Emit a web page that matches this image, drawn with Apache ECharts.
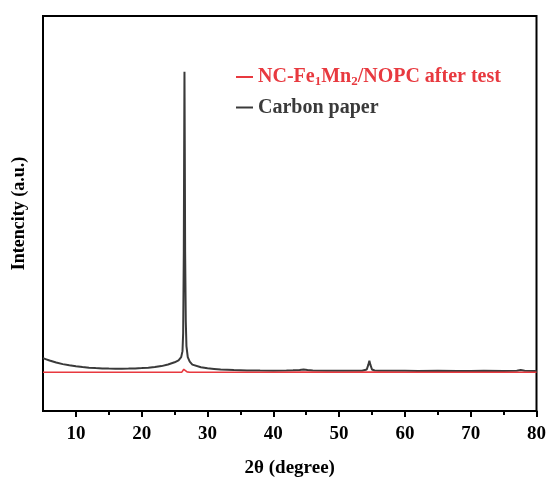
<!DOCTYPE html>
<html>
<head>
<meta charset="utf-8">
<script src="https://cdn.jsdelivr.net/npm/echarts@6/dist/echarts.min.js"></script>
<style>
  html, body { margin: 0; padding: 0; background: #fff; }
  #chart { width: 549px; height: 483px; }
</style>
</head>
<body>
<div id="chart"></div>
<script>
// XRD patterns: 2θ (degree) vs intensity (arbitrary units)
const carbonX = [5, 5.5, 6, 7, 8, 9, 10, 11, 12, 13, 14, 15, 16, 17, 18, 19, 20, 21, 22, 23, 24, 25,
  25.6, 26.0, 26.2, 26.3, 26.4, 26.45, 26.5, 26.55, 26.6, 26.7, 26.8, 27.0, 27.3, 27.7, 28, 29, 30, 31,
  32, 34, 36, 38, 40, 42, 43, 44, 44.6, 45.2, 46, 48, 50, 52, 53.5, 54.2, 54.45, 54.6, 54.75, 55.0, 55.4,
  56, 58, 60, 62, 65, 68, 70, 72, 75, 77, 77.6, 78.2, 80];
const carbonY = [530, 518, 506, 486, 470, 458, 448, 440, 434, 430, 427, 425, 424, 424, 425, 427, 430, 434, 440, 450, 466, 488,
  508, 540, 600, 780, 1600, 2600, 3400, 2600, 1600, 900, 650, 540, 495, 465, 452, 438, 428, 422,
  416, 410, 407, 405, 404, 406, 408, 412, 416, 411, 406, 404, 403, 403, 404, 416, 465, 505, 465, 416, 406,
  404, 403, 403, 402, 403, 402, 402, 403, 402, 404, 410, 403, 402];

const redX = [5, 10, 15, 20, 25, 26.1, 26.3, 26.4, 26.5, 26.6, 26.7, 26.9, 27.3, 30, 35, 40, 44.5, 50, 54.6, 60, 70, 80];
const redY = [388, 389, 388, 389, 389, 390, 398, 418, 432, 418, 400, 392, 389, 389, 388, 388, 390, 388, 390, 388, 388, 388];

const xTickLabels = [10, 20, 30, 40, 50, 60, 70, 80];
const xMinorTicks = [15, 25, 35, 45, 55, 65, 75];

const seriesNames = ['NC-Fe1Mn2/NOPC after test', 'Carbon paper'];
const seriesColors = ['#e8393f', '#3a3a3a'];

const zip = (xs, ys) => xs.map((x, i) => [x, ys[i]]);

const font = 'Liberation Serif';
const chart = echarts.init(document.getElementById('chart'));

chart.setOption({
  animation: false,
  backgroundColor: '#fff',
  grid: {
    left: 43, right: 12, top: 16, bottom: 71,
    show: true, borderColor: '#000', borderWidth: 2, backgroundColor: 'transparent'
  },
  legend: {
    orient: 'vertical',
    left: 231, top: 62,
    itemWidth: 17, itemHeight: 2, itemGap: 9,
    icon: 'rect',
    data: seriesNames,
    formatter: function (name) {
      if (name === seriesNames[0]) {
        return '{r|NC-Fe}{rs|1}{r|Mn}{rs|2}{r|/NOPC after test}';
      }
      return '{k|Carbon paper}';
    },
    textStyle: {
      fontFamily: font, fontWeight: 'bold', fontSize: 20,
      rich: {
        r: { color: seriesColors[0], fontFamily: font, fontWeight: 'bold', fontSize: 20 },
        rs: { color: seriesColors[0], fontFamily: font, fontWeight: 'bold', fontSize: 13, padding: [10, 0, 0, 0] },
        k: { color: seriesColors[1], fontFamily: font, fontWeight: 'bold', fontSize: 20 }
      }
    }
  },
  xAxis: [{
    type: 'value', min: 5, max: 80,
    name: '2θ (degree)', nameLocation: 'middle', nameGap: 48,
    nameTextStyle: { fontFamily: font, fontWeight: 'bold', fontSize: 19, color: '#000' },
    axisLine: { show: true, onZero: false, lineStyle: { color: '#000', width: 2 } },
    axisTick: { show: true, inside: false, length: 6, lineStyle: { color: '#000', width: 2 }, customValues: xTickLabels },
    axisLabel: { fontFamily: font, fontWeight: 'bold', fontSize: 19, color: '#000', margin: 14, customValues: xTickLabels },
    splitLine: { show: false }
  }, {
    // minor ticks between labelled ticks
    type: 'value', min: 5, max: 80, position: 'bottom',
    axisLine: { show: false },
    axisTick: { show: true, inside: false, length: 4, lineStyle: { color: '#000', width: 2 }, customValues: xMinorTicks },
    axisLabel: { show: false, customValues: xMinorTicks },
    splitLine: { show: false }
  }],
  yAxis: {
    type: 'value', min: 0, max: 3960,
    name: 'Intencity (a.u.)', nameLocation: 'middle', nameGap: 15,
    nameTextStyle: { fontFamily: font, fontWeight: 'bold', fontSize: 18, color: '#000' },
    axisLine: { show: true, lineStyle: { color: '#000', width: 2 } },
    axisTick: { show: false },
    axisLabel: { show: false },
    splitLine: { show: false }
  },
  series: [{
    name: seriesNames[1], type: 'line', data: zip(carbonX, carbonY),
    showSymbol: false, lineStyle: { color: seriesColors[1], width: 2 }, itemStyle: { color: seriesColors[1] }, z: 2
  }, {
    name: seriesNames[0], type: 'line', data: zip(redX, redY),
    showSymbol: false, lineStyle: { color: seriesColors[0], width: 1.6 }, itemStyle: { color: seriesColors[0] }, z: 3
  }]
});
</script>
</body>
</html>
